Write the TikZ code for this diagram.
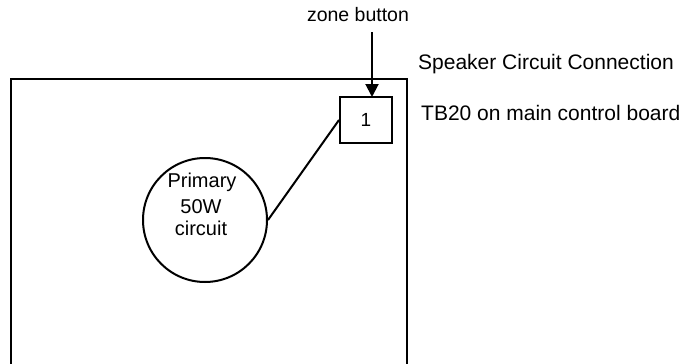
\documentclass[tikz,border=0pt]{standalone}
\usepackage{fontspec}
\setmainfont{Liberation Sans}
\usetikzlibrary{arrows.meta}
\begin{document}
\begin{tikzpicture}[x=1pt,y=-1pt,
  thick line/.style={line width=2pt},
  lbl/.style={inner sep=0pt,font=\fontsize{20}{22}\selectfont},
  boxnode/.style={draw,thick line,minimum width=52pt,minimum height=46pt,inner sep=0pt,font=\fontsize{19}{22}\selectfont}
]
\useasboundingbox (0,0) rectangle (691,364);
% outer board (open at the bottom edge)
\coordinate (bl) at (11,366);
\coordinate (br) at (407,366);
\draw[thick line] (bl) |- (407,79) -- (br);
% circle
\node[draw,thick line,circle,minimum size=124pt,inner sep=0pt] (circ) at (205,220) {};
\node[lbl] (ptxt) at (202,182) {Primary};
\node[lbl] (wtxt) at (201,207) {50W};
\node[lbl] (ctxt) at (201,228) {circuit};
% terminal box
\node[boxnode] (box) at (366,120) {1};
\draw[thick line] (circ.east) -- (box.west);
% zone button arrow
\node[lbl,font=\fontsize{19.5}{22}\selectfont] (zb) at (358,15) {zone button};
\coordinate (zbs) at (372,32);
\coordinate (zbe) at (372,97);
\draw[thick line,-{Triangle[width=13pt,length=13pt]}] (zbs) -- (zbe);
% right labels
\node[lbl,anchor=west,font=\fontsize{21}{24}\selectfont] (spk) at (418,64) {Speaker Circuit Connection};
\node[lbl,anchor=west,font=\fontsize{21}{24}\selectfont] (tb) at (421,113) {TB20 on main control board};
\end{tikzpicture}
\end{document}
